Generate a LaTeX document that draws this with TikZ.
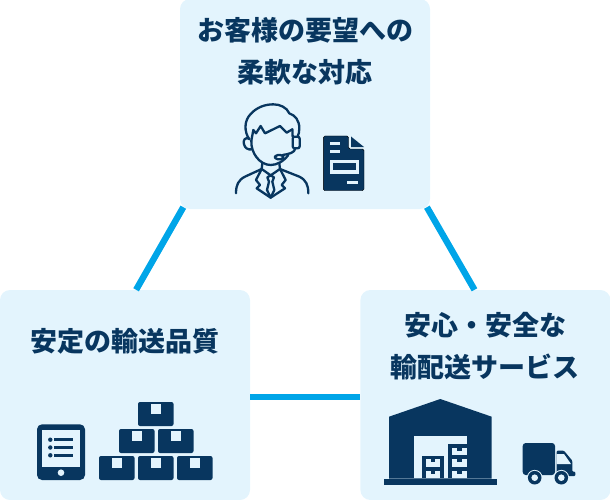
\documentclass[tikz,border=0pt]{standalone}
\usepackage{fontspec}
\setmainfont{Noto Sans CJK JP}
\usetikzlibrary{positioning}
\definecolor{panelblue}{HTML}{E3F4FD}
\definecolor{navy}{HTML}{08365F}
\definecolor{linkblue}{HTML}{00A5E8}

\begin{document}
\begin{tikzpicture}[
    x=1pt,
    y=-1pt,
    % Define styles for different types of blocks
    panel/.style={
        rectangle,
        fill=panelblue,
        rounded corners=10pt,
        inner sep=0pt,
        minimum width=250pt,
        minimum height=210pt
    },
    title/.style={
        text=navy,
        align=center,
        font=\fontsize{27}{42}\selectfont\bfseries
    },
    link/.style={
        draw=linkblue,
        line width=6.4pt
    },
    solid_part/.style={
        fill=navy
    },
    light_part/.style={
        fill=panelblue
    },
    outline/.style={
        draw=navy,
        line width=2.3pt,
        line cap=round,
        line join=round
    }
]
\useasboundingbox (0,0) rectangle (610,500);

% Place the blocks
\node[panel] (quality) at (125,395) {};
\node[panel, right=110pt of quality] (safety) {};
\node[panel] (care) at (305,104) {};

% Draw the connections
\draw[link] ([xshift=3.5pt,yshift=2pt]care.south west) -- ([xshift=136.3pt]quality.north west);
\draw[link] ([xshift=-3.3pt,yshift=2pt]care.south east) -- ([xshift=114.3pt]safety.north west);
\draw[link] ([yshift=-2pt]quality.east) -- ([yshift=-2pt]safety.west);

% Titles
\node[title] (care_title) at (305,51) {お客様の要望への\\柔軟な対応};
\node[title] (quality_title) at (125,341) {安定の輸送品質};
\node[title] (safety_title) at (485,346) {安心・安全な\\輸配送サービス};

% Operator
\begin{scope}[shift={(230,100)},x=.3333pt,y=-.3333pt]
    \draw[outline] (58,118) .. controls (42,95) and (42,62) .. (62,42) .. controls (80,22) and (105,13) .. (130,13) .. controls (150,13) and (170,22) .. (178,40) .. controls (196,46) and (208,62) .. (208,85) .. controls (208,95) and (206,103) .. (203,110);
    \draw[outline] (64,122) -- (70,90) -- (78,100) -- (92,78) -- (105,100) -- (150,78) -- (170,98) -- (187,88);
    \draw[outline] (58,116) .. controls (45,110) and (38,122) .. (42,133) .. controls (45,145) and (55,150) .. (65,148);
    \draw[outline] (64,122) .. controls (62,160) and (90,195) .. (122,195) .. controls (140,195) and (160,185) .. (175,165);
    \draw[outline] (187,88) -- (188,110);
    \draw[outline, rounded corners=2pt] (188,110) rectangle (209,145);
    \draw[outline] (196,145) .. controls (194,158) and (178,162) .. (158,165);
    \draw[outline, rounded corners=3pt] (135,165) rectangle (160,178);
    % Suit
    \draw[outline] (18,280) .. controls (18,255) and (25,240) .. (45,230) -- (95,207);
    \draw[outline] (235,280) .. controls (235,255) and (228,240) .. (208,230) -- (150,207);
    \draw[outline] (97,190) -- (95,207) -- (122,226) -- (150,207) -- (148,190);
    \draw[outline] (95,207) -- (78,240) -- (90,255) -- (80,265) -- (122,293) -- (165,265) -- (155,255) -- (167,240) -- (150,207);
    \draw[outline] (112,232) -- (122,226) -- (132,232) -- (127,245) -- (133,270) -- (122,293) -- (111,270) -- (117,245) -- cycle;
\end{scope}

% Document
\filldraw[solid_part, rounded corners=1.5pt] (323.3,136) -- (348.5,136) -- (348.5,149) -- (364,149) -- (364,190.7) -- (323.3,190.7) -- cycle;
\fill[solid_part] (351,136.5) -- (364,147) -- (351,147) -- cycle;
\fill[light_part] (330,142.3) rectangle (340,145);
\fill[light_part] (330,149.7) rectangle (340,152.7);
\fill[light_part] (330,160) rectangle (359,174.3);
\fill[solid_part] (333,163.3) rectangle (355.7,170.3);
\fill[light_part] (346.7,181) rectangle (357.7,183.7);

% Tablet
\fill[solid_part, rounded corners=5pt] (37,424.3) rectangle (85,480);
\fill[light_part] (42.3,430) rectangle (80,466.7);
\fill[light_part] (61,472.7) circle[radius=3.3];
\foreach \rowy in {439.7,447.5,455.3} {
    \fill[solid_part] (50.3,\rowy) circle[radius=2.2];
    \fill[solid_part] (54.3,\rowy-1.4) rectangle (73.3,\rowy+1.4);
}

% Stacked parcels
\foreach \boxx/\boxy in {138/402, 119/429, 158/429, 99/456, 138/456, 177/456} {
    \fill[solid_part, rounded corners=2pt] (\boxx,\boxy) rectangle (\boxx+35.5,\boxy+24);
    \fill[light_part] (\boxx+13,\boxy+1.5) rectangle (\boxx+23,\boxy+12);
}

% Warehouse
\fill[solid_part] (389,416.7) -- (440.3,399) -- (491.7,416.7) -- (491.7,478.7) -- (389,478.7) -- cycle;
\fill[solid_part] (384,479) rectangle (497,485);
\fill[light_part] (414.3,436.3) rectangle (466.7,478.3);
\fill[solid_part] (448.3,444.3) rectangle (466.7,478.3);
\fill[solid_part] (422,455.7) rectangle (444.3,478.3);
\foreach \drawerx/\drawery in {452.3/447.7, 452.3/459.3, 452.3/471, 425.7/459.3, 425.7/471} {
    \fill[light_part] (\drawerx,\drawery) rectangle (\drawerx+14.5,\drawery+7.3);
    \fill[solid_part] (\drawerx+4.8,\drawery) rectangle (\drawerx+9.7,\drawery+3);
}

% Truck
\fill[solid_part, rounded corners=3pt] (522.7,443) rectangle (555,475);
\fill[solid_part, rounded corners=1pt] (556.7,450.7) -- (564,450.7) -- (572.3,460.7) -- (572.3,471.7) -- (575.3,471.7) -- (575.3,476) -- (556.7,476) -- cycle;
\fill[light_part] (556.7,454) -- (564,454) -- (571,464) -- (556.7,464) -- cycle;
\foreach \wheelx in {534.7,561.3} {
    \fill[light_part] (\wheelx,477.7) circle[radius=7.8];
    \fill[solid_part] (\wheelx,477.7) circle[radius=6.8];
    \fill[light_part] (\wheelx,477.7) circle[radius=3.3];
}

\end{tikzpicture}
\end{document}
